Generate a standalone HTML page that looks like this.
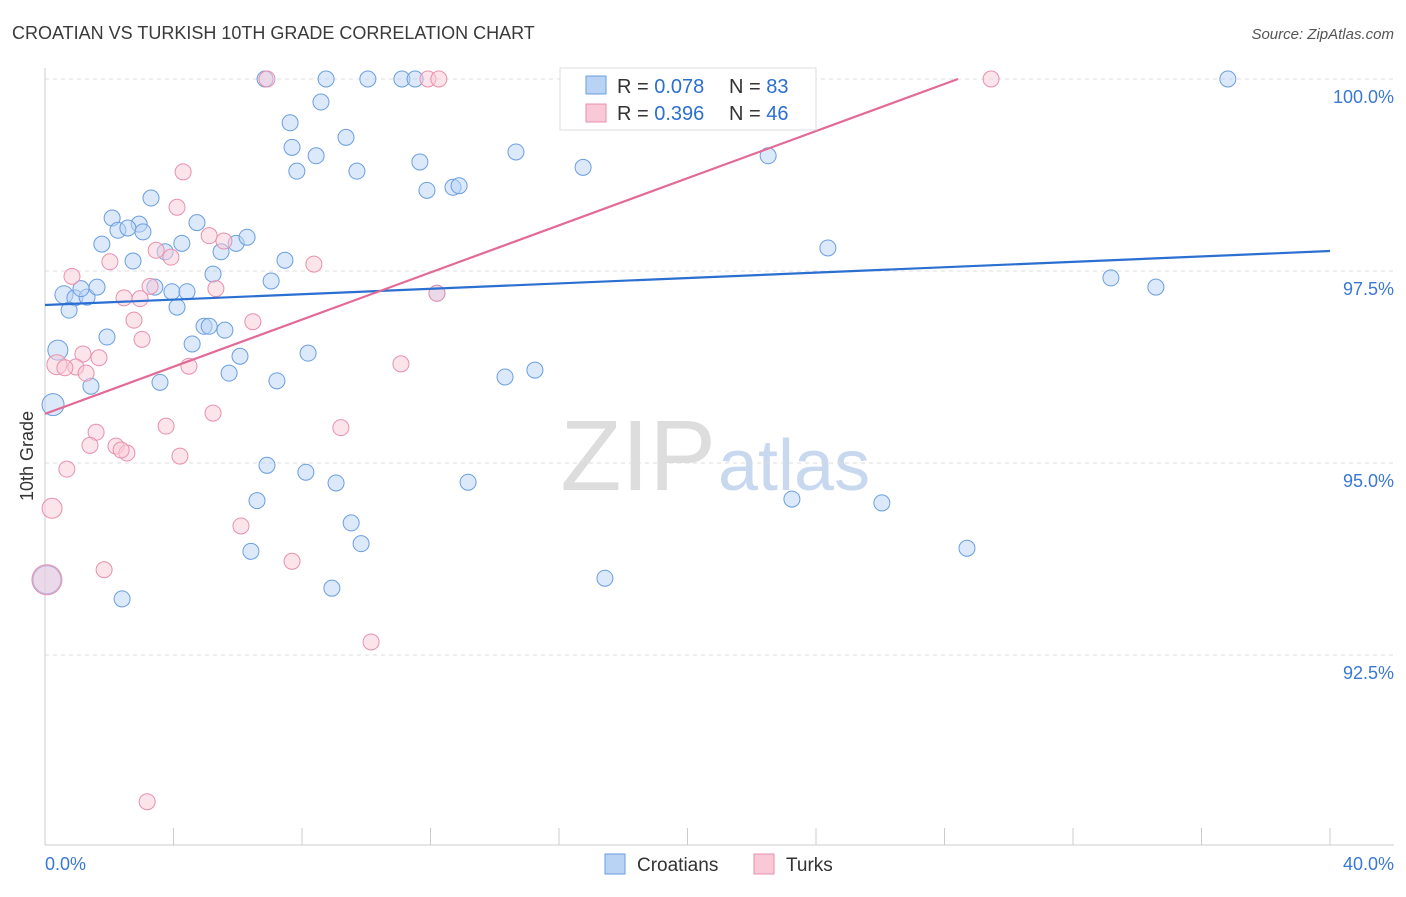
<!DOCTYPE html>
<html><head><meta charset="utf-8"><style>
body{margin:0;background:#fff;font-family:"Liberation Sans",sans-serif}
svg text{font-family:"Liberation Sans",sans-serif}
</style></head><body>
<svg id="chart" width="1406" height="892" xmlns="http://www.w3.org/2000/svg">
<text x="12" y="39" font-size="18" fill="#3a3a3a">CROATIAN VS TURKISH 10TH GRADE CORRELATION CHART</text>
<text x="1394" y="39" font-size="15" fill="#555" text-anchor="end" font-style="italic">Source: ZipAtlas.com</text>
<text x="33" y="456" font-size="18" fill="#333" text-anchor="middle" transform="rotate(-90 33 456)">10th Grade</text>
<text x="716" y="490" font-size="100" fill="#ddd" text-anchor="end" font-family="Liberation Serif">ZIP</text>
<text x="718" y="490" font-size="72" fill="#c8d8ef">atlas</text>
<g id="grid"></g><g id="axes"></g><g id="pts"></g><g id="lines"></g>
<g>
<rect x="560" y="68" width="256" height="62" fill="#fff" stroke="#ddd"/>
<rect x="586" y="76" width="20" height="18" fill="#b9d3f5" stroke="#6a9ee0"/>
<text x="617" y="93" font-size="20" fill="#333">R = <tspan fill="#2b6fd1">0.078</tspan></text>
<text x="729" y="93" font-size="20" fill="#333">N = <tspan fill="#2b6fd1">83</tspan></text>
<rect x="586" y="104" width="20" height="18" fill="#f9c9d8" stroke="#e890ae"/>
<text x="617" y="120" font-size="20" fill="#333">R = <tspan fill="#2b6fd1">0.396</tspan></text>
<text x="729" y="120" font-size="20" fill="#333">N = <tspan fill="#2b6fd1">46</tspan></text>
</g>
<g>
<rect x="605" y="854" width="20" height="20" fill="#b9d3f5" stroke="#6a9ee0"/>
<text x="637" y="871" font-size="19" fill="#333">Croatians</text>
<rect x="754" y="854" width="20" height="20" fill="#f9c9d8" stroke="#e890ae"/>
<text x="786" y="871" font-size="19" fill="#333">Turks</text>
</g>
</svg>
<script>
const yTicks=[100,97.5,95,92.5];
const yTickLabels=["100.0%","97.5%","95.0%","92.5%"];
const xTickLabels=["0.0%","40.0%"];
const blueX=[6.85,8.75,10.05,11.11,11.52,17.96,22.26,36.82,8.59,7.63,9.37,7.69,8.44,14.66,11.67,16.75,22.51,7.84,9.71,11.89,12.70,12.89,3.30,2.09,2.93,4.73,2.27,2.58,3.05,1.77,4.26,5.95,6.29,3.74,5.48,24.37,2.74,7.47,5.23,7.04,33.18,34.58,0.59,0.93,1.31,1.12,1.62,3.42,3.95,4.42,12.20,0.75,4.11,4.95,5.11,5.60,1.93,4.58,0.40,6.07,8.19,5.73,3.58,7.22,1.43,14.32,15.25,0.25,6.91,8.12,9.06,13.17,6.60,23.25,26.05,9.53,6.41,9.84,28.70,0.06,17.43,8.93,2.40];
const blueY=[100,100,100,100,100,100,100,100,99.70,99.43,99.24,99.11,99.00,99.05,98.92,98.85,99.00,98.80,98.80,98.55,98.59,98.61,98.45,98.19,98.11,98.13,98.03,98.06,98.01,97.85,97.86,97.86,97.94,97.75,97.75,97.80,97.63,97.64,97.46,97.37,97.41,97.29,97.19,97.15,97.16,97.27,97.29,97.29,97.23,97.23,97.21,96.99,97.03,96.78,96.78,96.73,96.64,96.55,96.47,96.39,96.43,96.17,96.05,96.07,96.00,96.12,96.21,95.76,94.97,94.88,94.74,94.75,94.51,94.53,94.48,94.22,93.85,93.95,93.89,93.48,93.50,93.37,93.23];
const pinkX=[6.91,11.92,12.26,29.45,4.30,4.11,5.11,5.57,3.46,3.92,0.84,2.02,8.37,2.46,2.96,3.27,5.32,2.77,6.47,3.02,1.18,1.68,0.37,0.96,1.28,0.62,4.48,11.08,12.20,5.23,3.77,9.21,1.59,1.40,2.21,2.55,2.37,4.20,0.68,0.22,6.10,1.84,7.69,10.15,3.18,0.06];
const pinkY=[100,100,100,100,98.79,98.33,97.96,97.89,97.77,97.68,97.43,97.62,97.59,97.15,97.14,97.30,97.27,96.86,96.84,96.61,96.42,96.37,96.28,96.25,96.17,96.24,96.26,96.29,97.21,95.65,95.48,95.46,95.40,95.23,95.22,95.13,95.17,95.09,94.92,94.41,94.18,93.61,93.72,92.67,90.59,93.48];
const blueLine=[[0,97.057],[40,97.76]];
const pinkLine=[[0,95.64],[28.42,100]];
const NS="http://www.w3.org/2000/svg";
const sx=v=>45+v*32.125, sy=v=>79+(100-v)*76.8;
function mk(t,a,p){const e=document.createElementNS(NS,t);for(const k in a)e.setAttribute(k,a[k]);p.appendChild(e);return e;}
const grid=document.getElementById('grid'),axes=document.getElementById('axes'),pts=document.getElementById('pts'),lines=document.getElementById('lines');
yTicks.forEach((t,i)=>{
 const g=mk('line',{x1:45,x2:1394,y1:sy(t),y2:sy(t),stroke:'#ddd','stroke-dasharray':'4,4'},grid);
 
 
 const tx=mk('text',{x:1394,y:sy(t)+24,'font-size':18,fill:'#3a78d4','text-anchor':'end'},axes);
 tx.textContent=yTickLabels[i];
 
 
});
const ya=mk('line',{x1:45,x2:45,y1:68,y2:845,stroke:'#ccc'},axes);


const xa=mk('line',{x1:45,x2:1394,y1:845,y2:845,stroke:'#ccc'},axes);


for(let i=0;i<=10;i++){
 const t=mk('line',{x1:sx(i*4),x2:sx(i*4),y1:828,y2:845,stroke:'#ccc'},axes);
 
 
}
[[0,'start',45],[40,'end',1394]].forEach((d,i)=>{
 const tx=mk('text',{x:d[2],y:870,'font-size':18,fill:'#3a78d4','text-anchor':d[1]},axes);
 tx.textContent=xTickLabels[i];
 
 
});
function dots(X,Y,fill,stroke,name,big){
 X.forEach((x,i)=>{
  let r=8; if(big[i])r=big[i];
  const c=mk('circle',{cx:sx(x),cy:sy(Y[i]),r:r,fill:fill,'fill-opacity':0.5,stroke:stroke,'stroke-width':1},pts);
  
  
 });
}
const bb={}; bb[67]=11; bb[79]=14; bb[42]=9; bb[58]=10;
dots(blueX,blueY,'#b9d3f5','#6a9ee0','croatian-point',bb);
const pb={}; pb[45]=15; pb[39]=10; pb[22]=10;
dots(pinkX,pinkY,'#f9c9d8','#e890ae','turk-point',pb);
const bl=mk('line',{x1:sx(blueLine[0][0]),y1:sy(blueLine[0][1]),x2:sx(blueLine[1][0]),y2:sy(blueLine[1][1]),stroke:'#2b6fd1','stroke-width':2.2},lines);


const pl=mk('line',{x1:sx(pinkLine[0][0]),y1:sy(pinkLine[0][1]),x2:sx(pinkLine[1][0]),y2:sy(pinkLine[1][1]),stroke:'#e36a96','stroke-width':2.2},lines);


</script>
</body></html>
